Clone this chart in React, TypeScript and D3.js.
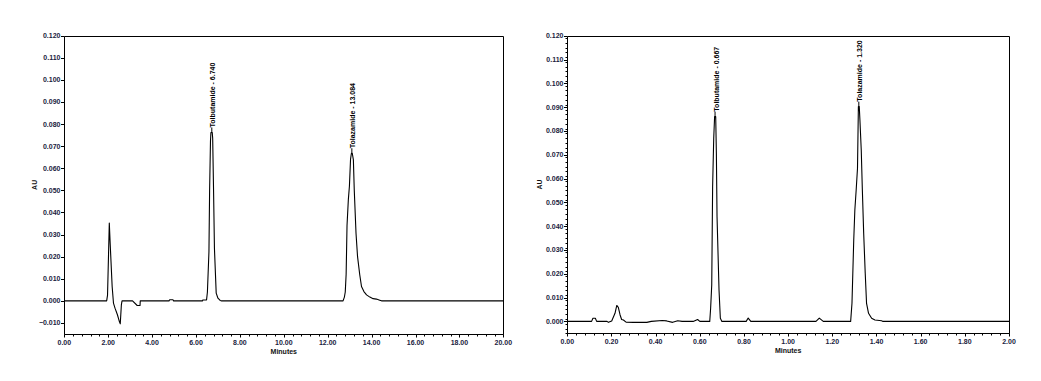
import React from "react";
import * as d3 from "d3";

// ---------- Data ----------
const leftTimes = [
  0, 1.93, 1.97, 2.05, 2.09, 2.18, 2.24, 2.31, 2.42, 2.51, 2.55, 2.6, 2.63,
  3.11, 3.32, 3.45, 3.46, 4.77, 4.8, 4.95, 4.98, 6.3, 6.31, 6.48, 6.52, 6.59,
  6.62, 6.66, 6.68, 6.74, 6.76, 6.8, 6.84, 6.92, 7.0, 7.1, 7.15, 12.7, 12.76,
  12.8, 12.84, 12.88, 12.94, 12.99, 13.04, 13.08, 13.12, 13.17, 13.21, 13.29,
  13.36, 13.46, 13.54, 13.65, 13.77, 13.92, 14.07, 14.22, 14.37, 14.45, 20,
];
const leftValues = [
  0, 0, 0.0026, 0.0352, 0.026, 0.0065, -0.001, -0.0033, -0.0063, -0.0094,
  -0.0104, -0.0018, 0, 0, -0.0021, -0.0021, 0, 0, 0.0005, 0.0005, 0, 0, 0.0004,
  0.0004, 0.004, 0.0223, 0.05, 0.0725, 0.0762, 0.0762, 0.0736, 0.0499, 0.0238,
  0.0035, 0.0012, 0.0002, 0, 0, 0.0017, 0.004, 0.012, 0.034, 0.0457, 0.052,
  0.064, 0.0668, 0.0668, 0.0638, 0.0502, 0.0306, 0.02, 0.0118, 0.0065, 0.0042,
  0.0027, 0.0017, 0.001, 0.0008, 0.0003, 0, 0,
];

const rightTimes = [
  0, 0.11, 0.116, 0.127, 0.133, 0.18, 0.186, 0.201, 0.216, 0.224, 0.231, 0.239,
  0.246, 0.254, 0.266, 0.3, 0.36, 0.38, 0.43, 0.45, 0.477, 0.5, 0.52, 0.57,
  0.59, 0.6, 0.645, 0.649, 0.654, 0.658, 0.663, 0.667, 0.672, 0.675, 0.678,
  0.687, 0.693, 0.7, 0.81, 0.819, 0.831, 1.126, 1.141, 1.159, 1.283, 1.289,
  1.297, 1.302, 1.308, 1.314, 1.318, 1.322, 1.325, 1.331, 1.336, 1.342, 1.349,
  1.355, 1.364, 1.378, 1.393, 1.423, 1.428, 2.0,
];
const rightValues = [
  0, 0, 0.0013, 0.0013, 0, 0, -0.0004, 0.0002, 0.0034, 0.0067, 0.0059, 0.0027,
  0.0008, 0.0006, -0.0003, -0.0004, -0.0004, 0, 0.0004, 0.0002, -0.0004,
  0.0003, 0, 0, 0.0008, 0, 0, 0.0055, 0.0153, 0.0566, 0.0769, 0.086, 0.086,
  0.0706, 0.044, 0.0132, 0.0013, 0, 0, 0.0014, 0, 0, 0.0014, 0, 0, 0.0076,
  0.0342, 0.0468, 0.0552, 0.0643, 0.0902, 0.0902, 0.0846, 0.072, 0.0552, 0.037,
  0.0202, 0.0076, 0.0034, 0.0013, 0.0006, 0.0003, 0, 0,
];

const leftPeakNames = ["Tolbutamide - 6.740", "Tolazamide - 13.084"];
const leftPeakTimes = [6.72, 13.1];
const leftPeakValues = [0.0762, 0.0668];

const rightPeakNames = ["Tolbutamide - 0.667", "Tolazamide - 1.320"];
const rightPeakTimes = [0.669, 1.32];
const rightPeakValues = [0.086, 0.0902];

const leftXTicks = [0, 2, 4, 6, 8, 10, 12, 14, 16, 18, 20];
const leftYTicks = [-0.01, 0, 0.01, 0.02, 0.03, 0.04, 0.05, 0.06, 0.07, 0.08, 0.09, 0.1, 0.11, 0.12];
const rightXTicks = [0, 0.2, 0.4, 0.6, 0.8, 1.0, 1.2, 1.4, 1.6, 1.8, 2.0];
const rightYTicks = [0, 0.01, 0.02, 0.03, 0.04, 0.05, 0.06, 0.07, 0.08, 0.09, 0.1, 0.11, 0.12];

const FONT = "'Liberation Sans', Arial, sans-serif";
const TICK_COLOR = "#1a2240";

type PanelProps = {
  x0: number;
  x1: number;
  yTop: number;
  yBottom: number;
  xDomain: [number, number];
  yDomain: [number, number];
  times: number[];
  values: number[];
  xTicks: number[];
  yTicks: number[];
  xMinorStep: number;
  yMinorStep: number | null;
  peakNames: string[];
  peakTimes: number[];
  peakValues: number[];
  auX: number;
};

function Panel(p: PanelProps) {
  const x = d3.scaleLinear().domain(p.xDomain).range([p.x0, p.x1]);
  const y = d3.scaleLinear().domain(p.yDomain).range([p.yBottom, p.yTop]);
  const pts: [number, number][] = p.times.map((t, i) => [t, p.values[i]]);
  const line = d3
    .line<[number, number]>()
    .x((d) => x(d[0]))
    .y((d) => y(d[1]))
    .curve(d3.curveLinear);

  const xMinor: number[] = [];
  for (let v = p.xDomain[0]; v <= p.xDomain[1] + 1e-9; v += p.xMinorStep) xMinor.push(v);
  const yMinor: number[] = [];
  if (p.yMinorStep) {
    for (let v = p.yDomain[0]; v <= p.yDomain[1] + 1e-9; v += p.yMinorStep) yMinor.push(v);
  }
  const fmtY = d3.format(".3f");
  const fmtX = d3.format(".2f");
  const L = Math.round(p.x0) + 0.5;
  const R = Math.round(p.x1) + 0.5;
  const T = Math.round(p.yTop) + 0.5;
  const B = Math.round(p.yBottom) + 0.5;

  return (
    <g>
      {/* frame */}
      <line x1={L} x2={R} y1={T} y2={T} stroke="#000" strokeWidth={1} />
      <line x1={R} x2={R} y1={T} y2={B} stroke="#000" strokeWidth={1} />
      <line x1={L} x2={L} y1={T} y2={B} stroke="#000" strokeWidth={1} />
      <line x1={L} x2={R} y1={B} y2={B} stroke="#000" strokeWidth={1} />

      {/* minor ticks */}
      {xMinor.map((v, i) => (
        <line key={"xm" + i} x1={Math.round(x(v)) + 0.5} x2={Math.round(x(v)) + 0.5} y1={B} y2={B + 2} stroke="#000" strokeWidth={1} />
      ))}
      {yMinor.map((v, i) => (
        <line key={"ym" + i} x1={L - 2} x2={L} y1={Math.round(y(v)) + 0.5} y2={Math.round(y(v)) + 0.5} stroke="#000" strokeWidth={1} />
      ))}

      {/* major ticks + labels */}
      {p.xTicks.map((v, i) => (
        <g key={"xt" + i}>
          <line x1={Math.round(x(v)) + 0.5} x2={Math.round(x(v)) + 0.5} y1={B} y2={B + 3} stroke="#000" strokeWidth={1} />
          <text x={x(v)} y={B + 10} textAnchor="middle" fontFamily={FONT} fontWeight="bold" fontSize={7} fill={TICK_COLOR}>
            {fmtX(v)}
          </text>
        </g>
      ))}
      {p.yTicks.map((v, i) => (
        <g key={"yt" + i}>
          <line x1={L - 3.5} x2={L} y1={Math.round(y(v)) + 0.5} y2={Math.round(y(v)) + 0.5} stroke="#000" strokeWidth={1} />
          <text x={L - 4} y={y(v) + 2.5} textAnchor="end" fontFamily={FONT} fontWeight="bold" fontSize={7} fill={TICK_COLOR}>
            {fmtY(v)}
          </text>
        </g>
      ))}

      {/* axis titles */}
      <text x={(p.x0 + p.x1) / 2} y={B + 19} textAnchor="middle" fontFamily={FONT} fontWeight="bold" fontSize={7} fill="#111">
        Minutes
      </text>
      <text
        transform={`translate(${p.auX},${(p.yTop + p.yBottom) / 2}) rotate(-90)`}
        textAnchor="middle"
        fontFamily={FONT}
        fontWeight="bold"
        fontSize={7}
        fill="#111"
      >
        AU
      </text>

      {/* trace */}
      <path d={line(pts) || ""} fill="none" stroke="#000" strokeWidth={1.1} strokeLinejoin="round" />

      {/* peak labels */}
      {p.peakNames.map((name, i) => {
        const px = x(p.peakTimes[i]);
        const py = y(p.peakValues[i]);
        return (
          <g key={"pk" + i}>
            <line x1={px} x2={px} y1={py} y2={py - 5} stroke="#000" strokeWidth={1} />
            <text
              transform={`translate(${px + 3.5},${py - 5}) rotate(-90)`}
              textAnchor="start"
              fontFamily={FONT}
              fontWeight="bold"
              fontSize={7}
              fill="#000"
            >
              {name}
            </text>
          </g>
        );
      })}
    </g>
  );
}

export default function App() {
  return (
    <svg
      width={1041}
      height={381}
      style={{ position: "absolute", left: 0, top: 0, background: "#fff" }}
    >
      <rect x={0} y={0} width={1041} height={381} fill="#fff" />
      <Panel
        x0={64.3}
        x1={503.3}
        yTop={35.7}
        yBottom={334}
        xDomain={[0, 20]}
        yDomain={[-0.015, 0.12]}
        times={leftTimes}
        values={leftValues}
        xTicks={leftXTicks}
        yTicks={leftYTicks}
        xMinorStep={0.4}
        yMinorStep={null}
        peakNames={leftPeakNames}
        peakTimes={leftPeakTimes}
        peakValues={leftPeakValues}
        auX={37}
      />
      <Panel
        x0={567.3}
        x1={1009}
        yTop={35.7}
        yBottom={333.3}
        xDomain={[0, 2]}
        yDomain={[-0.005, 0.12]}
        times={rightTimes}
        values={rightValues}
        xTicks={rightXTicks}
        yTicks={rightYTicks}
        xMinorStep={0.04}
        yMinorStep={0.002}
        peakNames={rightPeakNames}
        peakTimes={rightPeakTimes}
        peakValues={rightPeakValues}
        auX={542}
      />
    </svg>
  );
}
